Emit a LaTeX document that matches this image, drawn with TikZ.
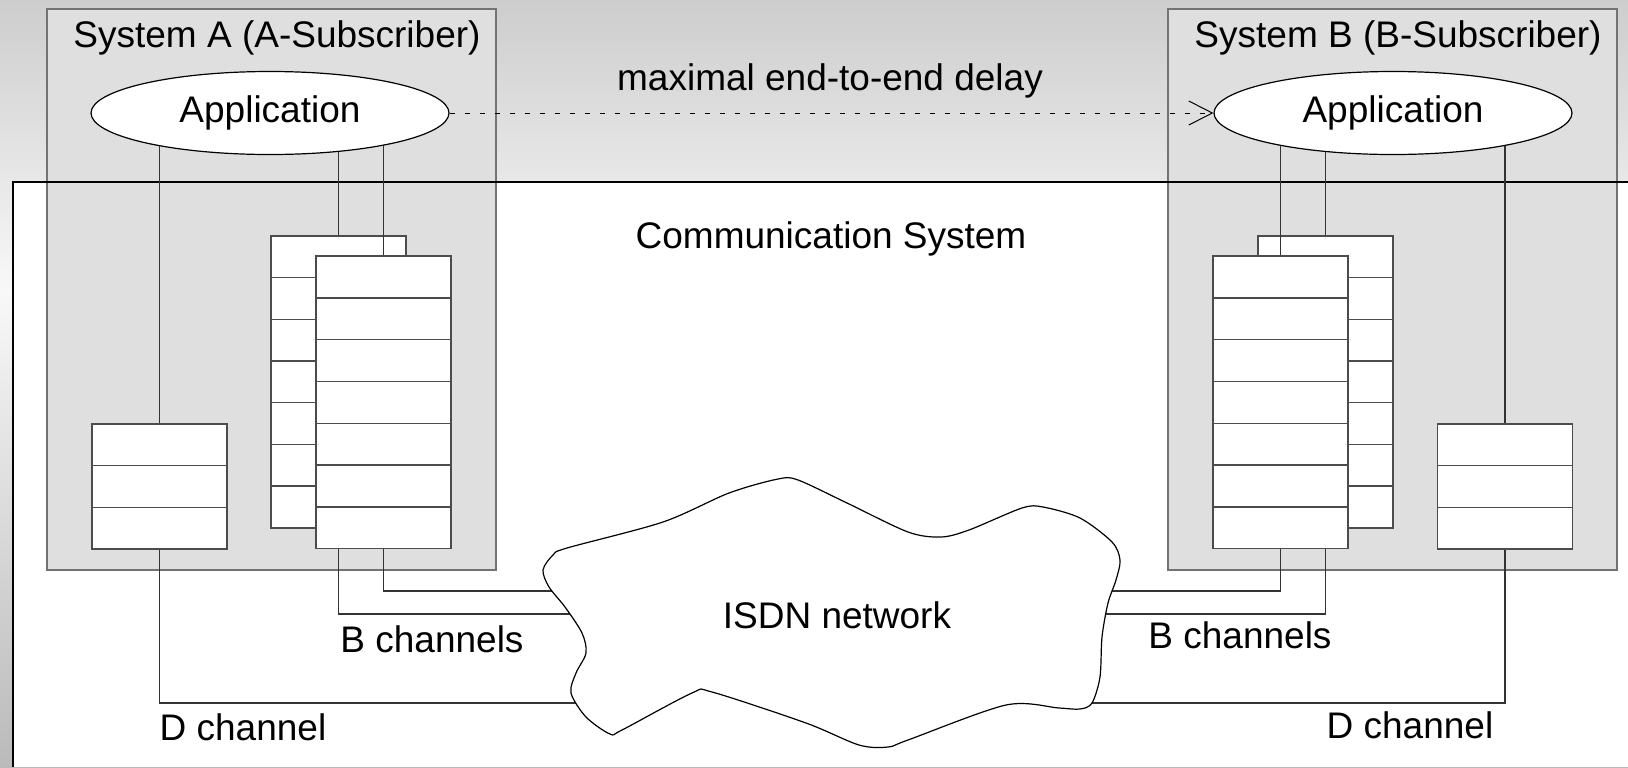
\documentclass[tikz,border=0pt]{standalone}
\usepackage{fontspec}
\setmainfont{Liberation Sans}
\usepackage{xcolor}
\usepackage{tikz}
\usetikzlibrary{positioning,arrows.meta,shapes.geometric}
\pgfdeclarelayer{back}
\pgfdeclarelayer{wires}
\pgfsetlayers{back,wires,main}
\definecolor{bgdark}{HTML}{CDCDCD}
\definecolor{bglight}{HTML}{F8F8F8}
\definecolor{bgbottom}{HTML}{BABABA}
\definecolor{sysfill}{HTML}{DFDFDF}

\begin{document}
\begin{tikzpicture}[
						x=0.5pt, y=-0.5pt,
						txt/.style={font=\fontsize{18.5}{22}\selectfont, inner sep=0pt, anchor=base},
						sysbox/.style={draw=black!55, fill=sysfill, line width=0.7pt, inner sep=0pt, minimum width=224.5pt, minimum height=280.5pt},
						app/.style={ellipse, draw, fill=white, line width=0.6pt, minimum width=179pt, minimum height=41.5pt, inner sep=0pt, font=\fontsize{18.5}{22}\selectfont},
						slot/.style={draw=black!70, fill=white, line width=0.7pt, minimum width=67.5pt, minimum height=20.9pt, inner sep=0pt},
						wire/.style={draw=black!80, line width=0.7pt},
						delay/.style={-{Straight Barb[length=11.75pt, width=12pt]}, dash pattern=on 2.5pt off 5pt, line width=0.5pt}
						]
						\useasboundingbox (0,0) rectangle (1628,767);
						
						% Nền, vùng Communication System và hai hệ thống
						\begin{pgfonlayer}{back}
							\shade[top color=bgdark, bottom color=bglight] (0,0) rectangle (1628,290);
							\shade[top color=bglight, bottom color=bgbottom] (0,290) rectangle (1628,767);
							\fill[white] (13,182) rectangle (1628,767);
							\node[sysbox] (sysA) at (271.5,289.5) {};
							\node[sysbox] (sysB) at (1392.5,289.5) {};
							\draw[line width=0.7pt] (13,767) -- (13,182) -- (1628,182);
							% ngăn xếp phía sau
							\foreach \i in {1,...,7} {
								\node[slot] (bA\i) at (338.5,{236+(\i-0.5)*41.7}) {};
								\node[slot] (bB\i) at (1325.5,{236+(\i-0.5)*41.7}) {};
							}
						\end{pgfonlayer}
						
						% Ngăn xếp phía trước và kênh D
						\foreach \i in {1,...,7} {
							\node[slot] (fA\i) at (383.5,{256+(\i-0.5)*41.8}) {};
							\node[slot] (fB\i) at (1280.5,{256+(\i-0.5)*41.8}) {};
						}
						\foreach \i in {1,2,3} {
							\node[slot] (dA\i) at (159.5,{424+(\i-0.5)*41.7}) {};
							\node[slot] (dB\i) at (1505,{424+(\i-0.5)*41.7}) {};
						}
						
						\node[app] (appA) at (270,113) {Application};
						\node[app] (appB) at (1393,113) {Application};
						\draw[delay] (appA.east) -- (appB.west);
						
						% Đám mây ISDN
						\draw[fill=white, line width=0.6pt] plot[smooth cycle] coordinates {
							(543,570) (553,555) (567,548) (663,522) (729,493) (778,479) (798,480)
							(847,503) (908,532) (941,537) (969,530) (1022,508) (1043,507) (1080,518)
							(1112,542) (1120,560) (1116,580) (1108,603) (1102,637) (1100,677)
							(1092,703) (1080,709) (1059,708) (1006,705) (908,740) (888,747)
							(859,745) (806,723) (712,692) (692,693) (622,730) (610,734) (586,717)
							(571,693) (576,673) (586,653) (582,633) (565,607) (549,587)};
						\coordinate (netBA1) at (640,591);
						\coordinate (netBA2) at (640,614);
						\coordinate (netDA) at (640,703);
						\coordinate (netBB1) at (1040,591);
						\coordinate (netBB2) at (1040,614);
						\coordinate (netDB) at (1040,703);
						
						% Các đường nối
						\begin{pgfonlayer}{wires}
							\draw[wire] (dA1.north) -- (dA1.north |- appA.center);
							\draw[wire] (bA1.north) -- (bA1.north |- appA.center);
							\draw[wire] (fA1.north) -- (fA1.north |- appA.center);
							\draw[wire] (fB1.north) -- (fB1.north |- appB.center);
							\draw[wire] (bB1.north) -- (bB1.north |- appB.center);
							\draw[wire] (dB1.north) -- (dB1.north |- appB.center);
							\draw[wire] (fA7.south) |- (netBA1);
							\draw[wire] (fA7.south -| bA7.south) |- (netBA2);
							\draw[wire] (dA3.south) |- (netDA);
							\draw[wire] (fB7.south) |- (netBB1);
							\draw[wire] (fB7.south -| bB7.south) |- (netBB2);
							\draw[wire] (dB3.south) |- (netDB);
						\end{pgfonlayer}
						
						% Nhãn
						\node[txt] (titleA) at (277,47) {System A (A-Subscriber)};
						\node[txt] (titleB) at (1398,47) {System B (B-Subscriber)};
						\node[txt] (delayText) at (830,90) {maximal end-to-end delay};
						\node[txt] (comm) at (831,248) {Communication System};
						\node[txt] (isdn) at (837,628) {ISDN network};
						\node[txt] (chBA) at (432,652) {B channels};
						\node[txt] (chBB) at (1240,648) {B channels};
						\node[txt] (chDA) at (243,740) {D channel};
						\node[txt] (chDB) at (1410,738) {D channel};
					\end{tikzpicture}
\end{document}
